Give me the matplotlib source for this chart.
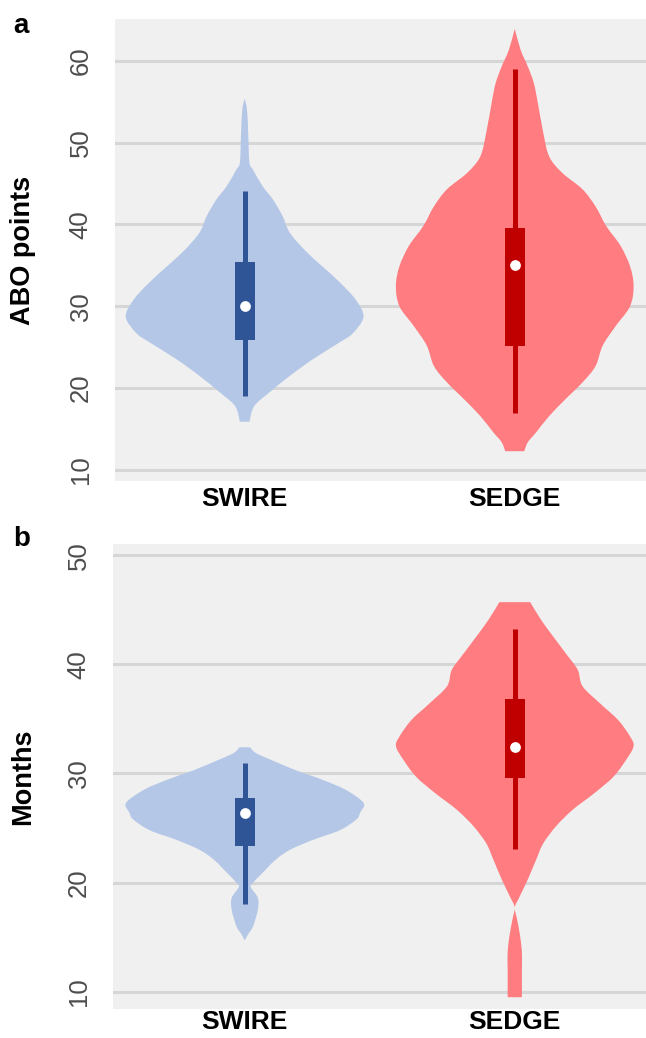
import numpy as np
import matplotlib
matplotlib.use("Agg")
import matplotlib.pyplot as plt
from matplotlib.path import Path
from matplotlib.patches import PathPatch
from matplotlib.transforms import ScaledTranslation

plt.rcParams['font.family'] = ['Liberation Sans', 'DejaVu Sans']

# Grupos
grupos = ['SWIRE', 'SEDGE']

# Perfiles de los violines: valor y semi-ancho relativo (1 = ancho máximo)
abo_swire_y = [55.4, 54.0, 51.2, 47.6, 46.7, 44.7, 43.0, 41.0, 39.0, 36.8, 34.8,
               32.8, 30.7, 28.7, 26.7, 25.6, 23.5, 21.5, 19.5, 17.8, 15.9]
abo_swire_w = [0.0, 0.02, 0.03, 0.04, 0.07, 0.15, 0.24, 0.32, 0.38, 0.51, 0.66,
               0.81, 0.94, 1.0, 0.91, 0.80, 0.57, 0.38, 0.21, 0.08, 0.04]

abo_sedge_y = [63.9, 61.3, 59.3, 57.3, 55.2, 51.2, 48.3, 46.3, 44.3, 42.2, 39.8,
               37.4, 34.9, 32.5, 30.0, 27.6, 25.2, 22.7, 20.7, 18.7, 16.6, 14.6,
               13.4, 12.3]
abo_sedge_w = [0.0, 0.05, 0.11, 0.16, 0.19, 0.24, 0.29, 0.40, 0.57, 0.68, 0.77,
               0.89, 0.97, 1.0, 0.97, 0.85, 0.74, 0.68, 0.57, 0.43, 0.29, 0.18,
               0.11, 0.08]

meses_swire_y = [32.4, 31.9, 31.3, 30.3, 29.4, 28.5, 27.3, 26.4, 25.8, 24.8, 23.9,
                 23.0, 22.1, 20.9, 20.0, 19.6, 18.6, 17.5, 16.0, 15.3, 14.7]
meses_swire_w = [0.045, 0.09, 0.21, 0.43, 0.66, 0.85, 1.0, 0.97, 0.94, 0.80, 0.57,
                 0.38, 0.26, 0.15, 0.07, 0.05, 0.11, 0.11, 0.07, 0.03, 0.0]

meses_sedge_y = [45.7, 44.1, 42.6, 41.0, 39.5, 38.0, 36.4, 34.9, 33.4, 32.5, 31.3,
                 29.7, 28.2, 26.7, 25.2, 23.6, 22.1, 20.3, 18.7, 17.7, 16.6, 15.1,
                 13.6, 12.0, 9.5]
meses_sedge_w = [0.13, 0.22, 0.32, 0.43, 0.53, 0.57, 0.72, 0.87, 0.97, 1.0, 0.94,
                 0.83, 0.67, 0.49, 0.35, 0.24, 0.18, 0.11, 0.04, 0.0, 0.02, 0.045,
                 0.06, 0.06, 0.06]

# Resumen tipo boxplot: [bigote inf, Q1, mediana, Q3, bigote sup]
abo_swire_box = [19.1, 25.9, 30.0, 35.4, 44.1]
abo_sedge_box = [17.0, 25.2, 35.0, 39.6, 59.0]
meses_swire_box = [18.0, 23.4, 26.4, 27.8, 31.0]
meses_sedge_box = [23.1, 29.6, 32.4, 36.8, 43.2]

colores_violin = ['#B4C7E7', '#FF7C80']
colores_caja = ['#2F5597', '#C00000']

W, H = 646, 1038
MEDIO_ANCHO = 0.44


def contorno_suave(ws, ys):
    # curva Catmull-Rom -> segmentos Bezier cúbicos por los puntos del perfil
    p = np.column_stack([ws, ys])
    ext = np.vstack([p[0], p, p[-1]])
    verts = [p[0]]
    for i in range(len(p) - 1):
        p0, p1, p2, p3 = ext[i], ext[i + 1], ext[i + 2], ext[i + 3]
        c1 = p1 + (p2 - p0) / 6.0
        c2 = p2 - (p3 - p1) / 6.0
        c1[0] = max(c1[0], 0.0)
        c2[0] = max(c2[0], 0.0)
        verts += [c1, c2, p2]
    return np.array(verts)


def dibujar_violin(ax, x, ys, ws, box, c_violin, c_caja):
    ws = np.array(ws) * MEDIO_ANCHO
    der = contorno_suave(ws, np.array(ys))
    izq = der[::-1].copy()
    izq[:, 0] *= -1
    n = len(der)
    verts = np.vstack([der, izq, der[:1]])
    verts[:, 0] += x
    codes = ([Path.MOVETO] + [Path.CURVE4] * (n - 1) + [Path.LINETO]
             + [Path.CURVE4] * (n - 1) + [Path.CLOSEPOLY])
    ax.add_patch(PathPatch(Path(verts, codes), facecolor=c_violin,
                           edgecolor='none', zorder=2))
    ax.vlines(x, box[0], box[4], color=c_caja, linewidth=3.6, zorder=3)
    ax.bar(x, box[3] - box[1], bottom=box[1], width=0.074, color=c_caja,
           linewidth=0, zorder=4)
    ax.scatter([x], [box[2]], s=60, color='white', linewidths=0, zorder=5)


def configurar_eje(fig, ax, ylim, yticks, ylabel, xlim, pad_x):
    ax.set_facecolor('#F0F0F0')
    ax.set_xlim(*xlim)
    ax.set_ylim(*ylim)
    ax.set_yticks(yticks)
    ax.set_yticklabels([str(t) for t in yticks], rotation=90, va='center',
                       fontsize=18.5, color='#4D4D4D')
    desplaza = ScaledTranslation(0, 4.5 / 100, fig.dpi_scale_trans)
    for lab in ax.get_yticklabels():
        lab.set_transform(lab.get_transform() + desplaza)
    ax.set_xticks([1, 2])
    ax.set_xticklabels(grupos, fontsize=19, fontweight='bold')
    ax.tick_params(axis='both', length=0)
    ax.tick_params(axis='y', pad=16)
    ax.tick_params(axis='x', pad=pad_x)
    ax.grid(True, axis='y', color='#D6D6D6', linewidth=2.2, zorder=0)
    ax.set_axisbelow(True)
    for s in ax.spines.values():
        s.set_visible(False)
    ax.set_ylabel(ylabel, fontsize=19.5, fontweight='bold')


def main():
    fig = plt.figure(figsize=(W / 100, H / 100), dpi=100)

    # Panel a
    ax1 = fig.add_axes([115 / W, 1 - 481 / H, (W - 115) / W, (481 - 19) / H])
    dibujar_violin(ax1, 1, abo_swire_y, abo_swire_w, abo_swire_box,
                   colores_violin[0], colores_caja[0])
    dibujar_violin(ax1, 2, abo_sedge_y, abo_sedge_w, abo_sedge_box,
                   colores_violin[1], colores_caja[1])
    configurar_eje(fig, ax1, (8.66, 65.1), [10, 20, 30, 40, 50, 60], 'ABO points',
                   (0.52, 2.486), 4)
    ax1.yaxis.set_label_coords(-0.148, 0.5)

    # Panel b
    ax2 = fig.add_axes([113 / W, 1 - 1009 / H, (W - 113) / W, (1009 - 544) / H])
    dibujar_violin(ax2, 1, meses_swire_y, meses_swire_w, meses_swire_box,
                   colores_violin[0], colores_caja[0])
    dibujar_violin(ax2, 2, meses_sedge_y, meses_sedge_w, meses_sedge_box,
                   colores_violin[1], colores_caja[1])
    configurar_eje(fig, ax2, (8.42, 51.03), [10, 20, 30, 40, 50], 'Months',
                   (0.512, 2.486), 0.5)
    ax2.yaxis.set_label_coords(-0.144, 0.5)

    fig.text(13 / W, 1 - 33 / H, 'a', fontsize=20, fontweight='bold')
    fig.text(13 / W, 1 - 546 / H, 'b', fontsize=20, fontweight='bold')

    fig.savefig('out.png', dpi=100)
    plt.close(fig)


if __name__ == "__main__":
    main()
